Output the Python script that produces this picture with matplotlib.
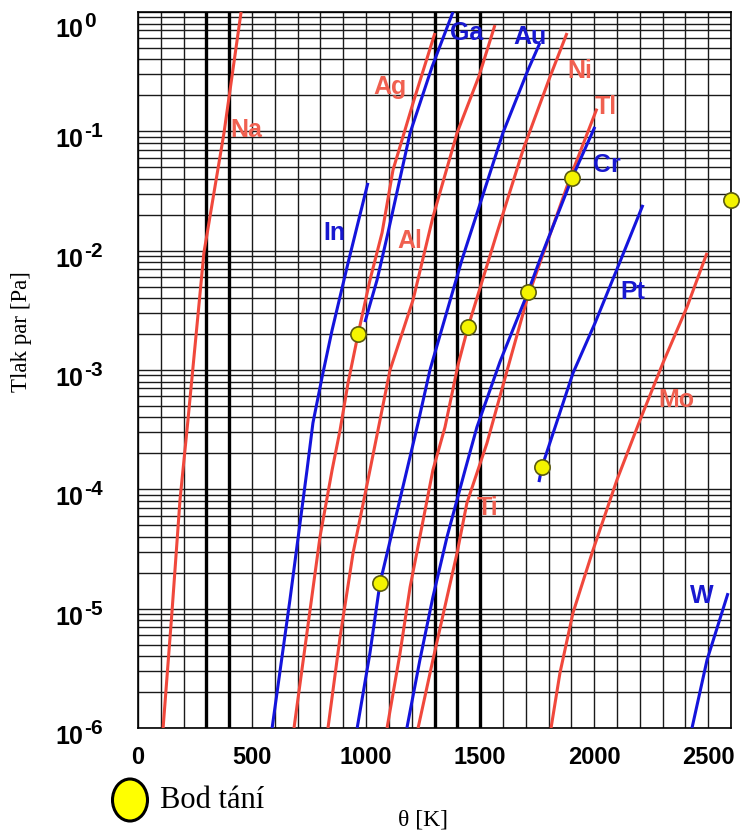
import matplotlib
matplotlib.use("Agg")
import matplotlib.pyplot as plt
from matplotlib.ticker import LogLocator, MultipleLocator, FixedLocator, NullFormatter
from matplotlib.patches import Ellipse

# vapour pressure curves: temperature in K, pressure in Pa
na_T = [110, 149, 184, 219, 289, 377, 452]
na_p = [1e-6, 9.4e-6, 8.1e-5, 3.8e-4, 9.6e-3, 9.7e-2, 1.0]

in_T = [588, 666, 741, 767, 807, 851, 921, 1008]
in_p = [1e-6, 1.18e-5, 1.45e-4, 3.6e-4, 8.7e-4, 2.16e-3, 7.9e-3, 3.7e-2]

ag_T = [684, 798, 851, 886, 921, 965, 1017, 1070, 1118, 1210, 1302]
ag_p = [1e-6, 4.0e-5, 1.45e-4, 3.14e-4, 7.8e-4, 2.0e-3, 5.67e-3, 1.41e-2, 4.74e-2, 0.183, 0.667]

ga_T = [995, 1048, 1096, 1157, 1193, 1289, 1381]
ga_p = [2.52e-3, 5.67e-3, 1.41e-2, 4.74e-2, 9.7e-2, 0.346, 1.0]

al_T = [833, 886, 943, 1017, 1061, 1105, 1206, 1293, 1399, 1495, 1565]
al_p = [1e-6, 5.79e-6, 2.93e-5, 1.45e-4, 3.8e-4, 1e-3, 3.87e-3, 1.91e-2, 9.7e-2, 0.29, 0.778]

au_T = [961, 1017, 1061, 1127, 1179, 1228, 1280, 1420, 1491, 1600, 1710, 1762]
au_p = [1e-6, 4.25e-6, 1.64e-5, 5.53e-5, 1.45e-4, 3.6e-4, 1e-3, 8.36e-3, 2.19e-2, 9.7e-2, 0.327, 0.55]

ni_T = [1092, 1149, 1193, 1236, 1293, 1346, 1403, 1447, 1574, 1688, 1806, 1881]
ni_p = [1e-6, 4.25e-6, 1.52e-5, 4.0e-5, 1.45e-4, 3.32e-4, 1.1e-3, 2.29e-3, 1.41e-2, 6.98e-2, 0.285, 0.667]

cr_T = [1179, 1236, 1293, 1355, 1434, 1486, 1587, 1710, 1762, 1903, 2003]
cr_p = [1e-6, 3.72e-6, 1.25e-5, 4.0e-5, 1.45e-4, 3.32e-4, 1.17e-3, 4.5e-3, 8.4e-3, 4.06e-2, 0.109]

tl_T = [1228, 1293, 1355, 1399, 1442, 1530, 1631, 1705, 1894, 2012]
tl_p = [1e-6, 3.72e-6, 1.25e-5, 2.93e-5, 7.68e-5, 2.44e-4, 1.21e-3, 3.87e-3, 4.06e-2, 0.155]

pt_T = [1758, 1771, 1907, 2004, 2104, 2214]
pt_p = [1.15e-4, 1.54e-4, 9.4e-4, 2.48e-3, 7.3e-3, 2.42e-2]

mo_T = [1811, 1850, 1907, 1995, 2100, 2201, 2302, 2407, 2495]
mo_p = [1e-6, 2.89e-6, 9.2e-6, 3.1e-5, 1.2e-4, 3.8e-4, 1.15e-3, 3.37e-3, 9.6e-3]

w_T = [2429, 2495, 2587]
w_p = [1e-6, 3.72e-6, 1.35e-5]

# melting points (Bod tání)
melt_T = [965, 1061, 1447, 1710, 1903, 1771, 2600]
melt_p = [2.0e-3, 1.64e-5, 2.29e-3, 4.5e-3, 4.06e-2, 1.54e-4, 2.66e-2]

# curve labels: text, T, p
red_labels = [("Na", 403, 0.103), ("Ag", 1030, 0.236), ("Al", 1136, 1.2e-2),
              ("Ni", 1881, 0.321), ("Tl", 2004, 0.16), ("Ti", 1486, 6.98e-5),
              ("Mo", 2280, 5.6e-4)]
blue_labels = [("In", 811, 1.41e-2), ("Ga", 1368, 0.667), ("Au", 1644, 0.618),
               ("Cr", 1995, 5.2e-2), ("Pt", 2113, 4.5e-3), ("W", 2420, 1.28e-5)]

x_ticks = [0, 500, 1000, 1500, 2000, 2500]
y_ticks = [1e-6, 1e-5, 1e-4, 1e-3, 1e-2, 1e-1, 1e0]
y_exponents = ["-6", "-5", "-4", "-3", "-2", "-1", "0"]
thick_T = [300, 400, 1300, 1400, 1500]

RED = "#f0483c"
BLUE = "#1414dc"

plt.rcParams["font.family"] = ["Liberation Sans", "DejaVu Sans"]

fig = plt.figure(figsize=(7.49, 8.34), dpi=100)
ax = fig.add_axes([138 / 749, 1 - 728 / 834, 593 / 749, 716 / 834])

ax.set_yscale("log")
ax.set_xlim(0, 2600)
ax.set_ylim(1e-6, 1.0)

# log-paper style grid
ax.xaxis.set_major_locator(FixedLocator(x_ticks))
ax.xaxis.set_minor_locator(MultipleLocator(100))
ax.yaxis.set_major_locator(FixedLocator(y_ticks))
ax.yaxis.set_major_formatter(NullFormatter())
ax.yaxis.set_minor_locator(LogLocator(base=10, subs=range(2, 10)))
ax.yaxis.set_minor_formatter(NullFormatter())
ax.grid(True, which="both", color="#1a1a1a", lw=1.0)
for t in thick_T:
    ax.axvline(t, color="black", lw=2.4, zorder=1)
ax.set_axisbelow(True)

ax.tick_params(which="both", length=0)
ax.tick_params(axis="x", pad=13, labelsize=17)
for lab in ax.get_xticklabels():
    lab.set_fontweight("bold")

# y tick labels drawn as "10" with a raised exponent, like the original
for v, e in zip(y_ticks, y_exponents):
    drop = 25 if e == "0" else 16
    ax.annotate("10", xy=(0, v), xycoords=("axes fraction", "data"),
                xytext=(-83, -drop), textcoords="offset pixels",
                fontsize=18, fontweight="bold", ha="left", va="baseline")
    ax.annotate(e, xy=(0, v), xycoords=("axes fraction", "data"),
                xytext=(-54, -drop + 10), textcoords="offset pixels",
                fontsize=15, fontweight="bold", ha="left", va="baseline")

for s in ax.spines.values():
    s.set_color("black")
    s.set_linewidth(1.2)

red_curves = [(na_T, na_p), (ag_T, ag_p), (al_T, al_p), (ni_T, ni_p), (tl_T, tl_p), (mo_T, mo_p)]
blue_curves = [(in_T, in_p), (ga_T, ga_p), (au_T, au_p), (cr_T, cr_p), (pt_T, pt_p), (w_T, w_p)]
for T, p in red_curves:
    ax.plot(T, p, color=RED, lw=2.2, zorder=3, solid_capstyle="butt")
for T, p in blue_curves:
    ax.plot(T, p, color=BLUE, lw=2.2, zorder=3, solid_capstyle="butt")

ax.plot(melt_T, melt_p, "o", ms=11, mfc="#f4f400", mec="#5a5a10", mew=1.2,
        zorder=6, clip_on=False)

for name, T, p in red_labels:
    ax.text(T, p, name, color="#f06050", fontsize=18, fontweight="bold",
            ha="left", va="center", zorder=4)
for name, T, p in blue_labels:
    ax.text(T, p, name, color="#1818d0", fontsize=18, fontweight="bold",
            ha="left", va="center", zorder=4)

fig.text(22 / 749, 1 - 332 / 834, "Tlak par [Pa]", rotation=90, family="Liberation Serif",
         fontsize=16.5, ha="center", va="center")
fig.text(423 / 749, 1 - 820 / 834, "θ [K]", family="Liberation Serif",
         fontsize=17, ha="center", va="center")

fig.add_artist(Ellipse((130 / 749, 1 - 800 / 834), 35 / 749, 42 / 834,
                       transform=fig.transFigure, fc="#ffff00", ec="black", lw=2.2))
fig.text(160 / 749, 1 - 800 / 834, "Bod tání", family="Liberation Serif",
         fontsize=22, ha="left", va="center")

fig.savefig("out.png", dpi=100)
